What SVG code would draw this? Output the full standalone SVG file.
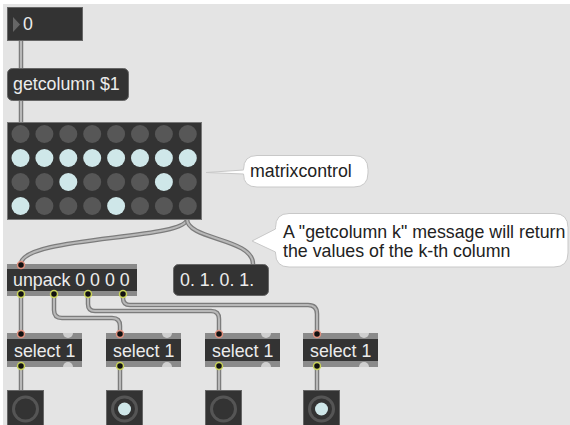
<svg xmlns="http://www.w3.org/2000/svg" width="570" height="425" viewBox="0 0 570 425">
<defs>
<style>
.txt{font-family:"Liberation Sans",Arial,sans-serif;font-size:17.8px;fill:#ececec}
.cmt{font-family:"Liberation Sans",Arial,sans-serif;font-size:17.8px;fill:#222}
.body{fill:#333;stroke:#666;stroke-width:1}
.bar{fill:#8a8a8a}
.cord{fill:none;stroke:#7c7c7c;stroke-width:4.5}
.cordi{fill:none;stroke:#b8b8b8;stroke-width:2}
.off{fill:#575757}
.on{fill:#cfe7e9}
.in{fill:#111;stroke:#e0907e;stroke-width:1.5}
.out{fill:#111;stroke:#c9d35a;stroke-width:1.5}
.aux{fill:#cfcfcf}
.bubble{fill:#fff;stroke:#c8c8c8;stroke-width:1}
.ring{fill:none;stroke:#555;stroke-width:3}
</style>
<g id="sel">
<rect class="bar" x="0" y="0" width="75" height="34"/>
<rect fill="#333" x="0" y="6" width="75" height="22"/>
<circle class="in" cx="14" cy="1" r="3.5"/>
<path class="aux" d="M56,0 A5,5 0 0 0 66,0 Z"/>
<circle class="out" cx="14" cy="33" r="3.5"/>
<path class="aux" d="M56,34 A5,5 0 0 1 66,34 Z"/>
<text class="txt" x="7" y="24">select 1</text>
</g>
</defs>

<!-- canvas -->
<rect x="0" y="0" width="570" height="425" fill="#fff"/>
<rect x="3" y="4" width="567" height="421" fill="#e4e4e4"/>

<!-- patch cords -->
<g id="connectors">
<path class="cord" d="M21,40 V68"/><path class="cordi" d="M21,40 V68"/>
<path class="cord" d="M21,100 V122"/><path class="cordi" d="M21,100 V122"/>
<path class="cord" d="M187,219 C187,240 21,236 21,264"/><path class="cordi" d="M187,219 C187,240 21,236 21,264"/>
<path class="cord" d="M187,219 C187,240 253,238 253,264"/><path class="cordi" d="M187,219 C187,240 253,238 253,264"/>
<path class="cord" d="M21,294 V336"/><path class="cordi" d="M21,294 V336"/>
<path class="cord" d="M54,294 V310 Q54,318 62,318 H112 Q120,318 120,326 V336"/><path class="cordi" d="M54,294 V310 Q54,318 62,318 H112 Q120,318 120,326 V336"/>
<path class="cord" d="M88,294 V304 Q88,311 95,311 H211 Q219,311 219,319 V336"/><path class="cordi" d="M88,294 V304 Q88,311 95,311 H211 Q219,311 219,319 V336"/>
<path class="cord" d="M123,294 V298 Q123,305 130,305 H308 Q317,305 317,314 V335"/><path class="cordi" d="M123,294 V298 Q123,305 130,305 H308 Q317,305 317,314 V335"/>
<path class="cord" d="M21,367 V390"/><path class="cordi" d="M21,367 V390"/>
<path class="cord" d="M120,367 V390"/><path class="cordi" d="M120,367 V390"/>
<path class="cord" d="M219,367 V390"/><path class="cordi" d="M219,367 V390"/>
<path class="cord" d="M317,367 V390"/><path class="cordi" d="M317,367 V390"/>
</g>

<!-- number box -->
<g id="number">
<rect class="body" x="7.5" y="7.5" width="75" height="33"/>
<polygon points="13,17 20,24.5 13,32" fill="#666"/>
<text class="txt" x="23" y="30">0</text>
</g>

<!-- message: getcolumn $1 -->
<g id="getcolumn">
<rect class="body" x="7.5" y="68.5" width="121" height="32" rx="5"/>
<text class="txt" x="13" y="90">getcolumn $1</text>
</g>

<!-- matrixcontrol -->
<g id="matrix">
<rect x="7.5" y="122.5" width="194" height="97" fill="#333" stroke="#777"/>
<g class="off">
<circle cx="20.5" cy="134" r="9"/><circle cx="44.4" cy="134" r="9"/><circle cx="68.3" cy="134" r="9"/><circle cx="92.2" cy="134" r="9"/><circle cx="116.1" cy="134" r="9"/><circle cx="140" cy="134" r="9"/><circle cx="163.9" cy="134" r="9"/><circle cx="187.8" cy="134" r="9"/>
<circle cx="20.5" cy="182" r="9"/><circle cx="44.4" cy="182" r="9"/><circle cx="92.2" cy="182" r="9"/><circle cx="116.1" cy="182" r="9"/><circle cx="140" cy="182" r="9"/><circle cx="187.8" cy="182" r="9"/>
<circle cx="44.4" cy="206" r="9"/><circle cx="68.3" cy="206" r="9"/><circle cx="92.2" cy="206" r="9"/><circle cx="140" cy="206" r="9"/><circle cx="163.9" cy="206" r="9"/><circle cx="187.8" cy="206" r="9"/>
</g>
<g class="on">
<circle cx="20.5" cy="158" r="9"/><circle cx="44.4" cy="158" r="9"/><circle cx="68.3" cy="158" r="9"/><circle cx="92.2" cy="158" r="9"/><circle cx="116.1" cy="158" r="9"/><circle cx="140" cy="158" r="9"/><circle cx="163.9" cy="158" r="9"/><circle cx="187.8" cy="158" r="9"/>
<circle cx="68.3" cy="182" r="9"/><circle cx="163.9" cy="182" r="9"/>
<circle cx="20.5" cy="206" r="9"/><circle cx="116.1" cy="206" r="9"/>
</g>
</g>

<!-- comments -->
<g id="comment-matrixcontrol">
<path class="bubble" d="M257,155.5 H354 Q368,155.5 368,169.5 V173 Q368,187 354,187 H257 Q243.5,187 243.5,174 L206,172.5 L243.5,170 V169.5 Q243.5,155.5 257,155.5 Z"/>
<text class="cmt" x="250" y="177">matrixcontrol</text>
</g>
<g id="comment-getcolumn">
<path class="bubble" d="M289,213.5 H554 Q568,213.5 568,227.5 V253 Q568,267 554,267 H289 Q275.5,267 275.5,253 V252 L252,241 L275.5,229 V227.5 Q275.5,213.5 289,213.5 Z"/>
<text class="cmt" x="283" y="238">A "getcolumn k" message will return</text>
<text class="cmt" x="283" y="257">the values of the k-th column</text>
</g>

<!-- unpack 0 0 0 0 -->
<g id="unpack">
<rect class="bar" x="7" y="264" width="130" height="32"/>
<rect fill="#333" x="7" y="269" width="130" height="22"/>
<circle class="in" cx="21" cy="265" r="3.5"/>
<circle class="out" cx="21" cy="294" r="3.5"/>
<circle class="out" cx="54" cy="294" r="3.5"/>
<circle class="out" cx="88" cy="294" r="3.5"/>
<circle class="out" cx="123" cy="294" r="3.5"/>
<text class="txt" x="13" y="286">unpack 0 0 0 0</text>
</g>

<!-- message: list output -->
<g id="list">
<rect class="body" x="173.5" y="264.5" width="95" height="31" rx="5"/>
<text class="txt" x="180" y="286">0. 1. 0. 1.</text>
</g>

<!-- select objects -->
<use id="select1" href="#sel" x="7" y="333"/>
<use id="select2" href="#sel" x="106" y="333"/>
<use id="select3" href="#sel" x="205" y="333"/>
<use id="select4" href="#sel" x="303" y="333"/>

<!-- buttons -->
<g id="button1">
<rect class="body" x="7.5" y="390.5" width="36" height="40"/>
<circle class="ring" cx="25.5" cy="409" r="12"/>
</g>
<g id="button2">
<rect class="body" x="106.5" y="390.5" width="36" height="40"/>
<circle class="ring" cx="124.5" cy="409" r="12"/>
<circle class="on" cx="124.5" cy="409" r="6.5"/>
</g>
<g id="button3">
<rect class="body" x="205.5" y="390.5" width="36" height="40"/>
<circle class="ring" cx="223.5" cy="409" r="12"/>
</g>
<g id="button4">
<rect class="body" x="303.5" y="390.5" width="36" height="40"/>
<circle class="ring" cx="321.5" cy="409" r="12"/>
<circle class="on" cx="321.5" cy="409" r="6.5"/>
</g>
</svg>
